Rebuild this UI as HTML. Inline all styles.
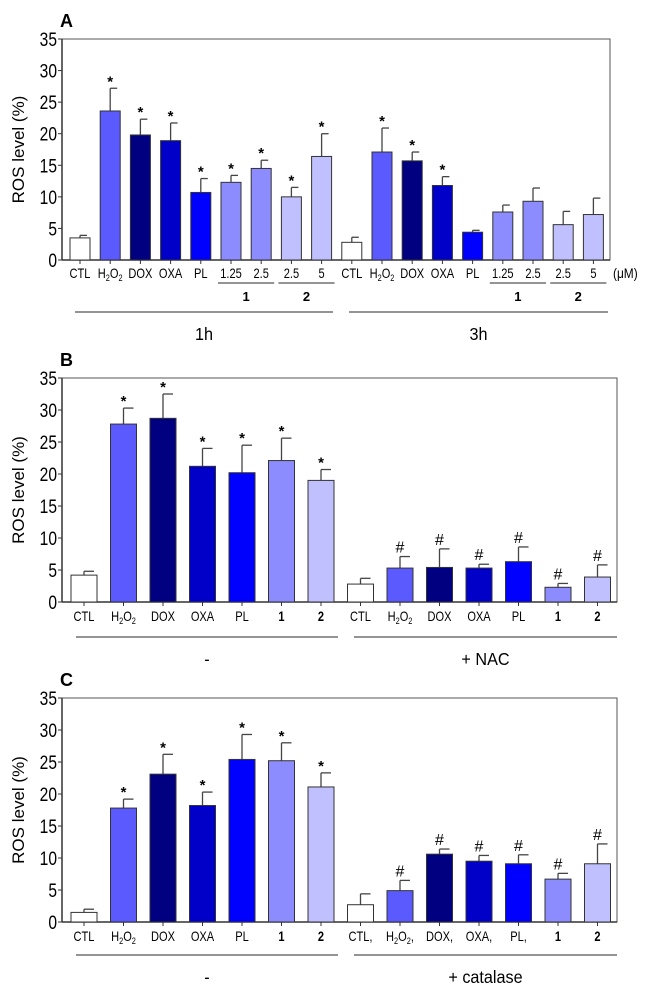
<!DOCTYPE html>
<html><head><meta charset="utf-8"><style>
body{margin:0;background:#fff}
svg{display:block;font-family:"Liberation Sans",sans-serif}
</style></head><body>
<svg id="fig" width="650" height="994" viewBox="0 0 650 994"></svg>
<script>
// Panel A data
const aLabels = ["CTL","H2O2","DOX","OXA","PL","1.25","2.5","2.5","5","CTL","H2O2","DOX","OXA","PL","1.25","2.5","2.5","5"];
const aValues = [3.5,23.6,19.8,18.9,10.7,12.3,14.5,10.0,16.4,2.8,17.1,15.7,11.8,4.4,7.6,9.3,5.6,7.2];
const aErrors = [0.4,3.6,2.5,2.8,2.2,1.1,1.3,1.5,3.6,0.8,3.8,1.4,1.4,0.3,1.1,2.1,2.1,2.6];
const aMarks = ["","*","*","*","*","*","*","*","*","","*","*","*","","","","",""];
const aColors = ["#ffffff","#5a5aff","#000080","#0000c8","#0000ff","#8c8cff","#8c8cff","#c0c0ff","#c0c0ff","#ffffff","#5a5aff","#000080","#0000c8","#0000ff","#8c8cff","#8c8cff","#c0c0ff","#c0c0ff"];
// Panel B data
const bLabels = ["CTL","H2O2","DOX","OXA","PL","1","2","CTL","H2O2","DOX","OXA","PL","1","2"];
const bValues = [4.2,27.8,28.7,21.2,20.2,22.1,19.0,2.8,5.3,5.4,5.3,6.3,2.3,3.9];
const bErrors = [0.6,2.5,3.8,2.8,4.3,3.5,1.7,0.9,1.8,2.9,0.6,2.3,0.6,1.9];
const bMarks = ["","*","*","*","*","*","*","","#","#","#","#","#","#"];
// Panel C data
const cLabels = ["CTL","H2O2","DOX","OXA","PL","1","2","CTL,","H2O2,","DOX,","OXA,","PL,","1","2"];
const cValues = [1.5,17.8,23.1,18.2,25.4,25.2,21.1,2.7,4.9,10.6,9.5,9.1,6.7,9.1];
const cErrors = [0.5,1.4,3.1,2.1,3.9,2.8,2.2,1.7,1.6,0.8,0.9,1.4,0.9,3.1];
const cMarks = ["","*","*","*","*","*","*","","#","#","#","#","#","#"];
const bcColors = ["#ffffff","#5a5aff","#000080","#0000c8","#0000ff","#8c8cff","#c0c0ff","#ffffff","#5a5aff","#000080","#0000c8","#0000ff","#8c8cff","#c0c0ff"];
const yTicks = [0,5,10,15,20,25,30,35];

const NS="http://www.w3.org/2000/svg";
const svg=document.getElementById('fig');
function mk(tag,attrs,parent){const e=document.createElementNS(NS,tag);for(const k in attrs)e.setAttribute(k,attrs[k]);(parent||svg).appendChild(e);return e;}

function panel(p){
  const g=mk('g',{});
  
  
  const y=v=>p.y0-(v/35)*(p.y0-p.y35);
  const x=i=>p.x0c+i*p.step;
  const t=mk('text',{x:p.left-2,y:p.y35-12,'font-size':18,'font-weight':'bold'},g);t.textContent=p.id;
  
  
  const fr=mk('path',{d:`M${p.left},${p.y35}H${p.right}V${p.y0}H${p.left}Z`,fill:'none',stroke:'#555','stroke-width':1},g);
  
  
  mk('line',{x1:p.left,x2:p.left,y1:p.y35,y2:p.y0,stroke:'#333','stroke-width':1.5},g);
  mk('line',{x1:p.left,x2:p.right,y1:p.y0,y2:p.y0,stroke:'#333','stroke-width':1.5},g);
  yTicks.forEach(v=>{
    mk('line',{x1:p.left-4,x2:p.left,y1:y(v),y2:y(v),stroke:'#333'},g);
    const tt=mk('text',{x:0,y:0,'font-size':19,'text-anchor':'end',transform:`translate(${p.left-5},${y(v)+7}) scale(0.82,1)`},g);
    tt.textContent=v;
    
    
  });
  const yt=mk('text',{x:0,y:0,'font-size':17,'text-anchor':'middle',transform:`translate(24,${(p.y0+p.y35)/2}) rotate(-90)`},g);
  yt.textContent='ROS level (%)';
  
  
  p.values.forEach((v,i)=>{
    const cx=x(i),top=y(v),et=y(v+p.errors[i]);
    mk('line',{x1:cx,x2:cx,y1:top,y2:et,stroke:'#444','stroke-width':1.3},g);
    mk('line',{x1:cx,x2:cx+p.bw/2-3,y1:et,y2:et,stroke:'#444','stroke-width':1.3},g);
    const r=mk('rect',{x:cx-p.bw/2,y:top,width:p.bw,height:p.y0-top,fill:p.colors[i],stroke:'#333','stroke-width':1},g);
    
    
    mk('line',{x1:cx,x2:cx,y1:p.y0,y2:p.y0+4,stroke:'#333'},g);
    if(p.marks[i]){
      const star=p.marks[i]=='*';
      const m=mk('text',{x:cx,y:et-(star?2:4),'font-size':star?15:16,'font-weight':star?'bold':'normal','text-anchor':'middle'},g);
      m.textContent=p.marks[i];
      
      
    }
    const lab=p.labels[i];
    const lt=mk('text',{x:0,y:0,'font-size':13.5,'text-anchor':'middle',transform:`translate(${cx},${p.labY}) scale(0.82,1)`},g);
    if(lab.startsWith('H2O2')){
      lt.innerHTML='H<tspan font-size="9" dy="3">2</tspan><tspan dy="-3">O</tspan><tspan font-size="9" dy="3">2</tspan>'+(lab.endsWith(',')?'<tspan dy="-3">,</tspan>':'');
    } else {lt.textContent=lab; if(lab==='1'||lab==='2')lt.setAttribute('font-weight','bold');}
    
    
  });
  p.groups.forEach(gr=>{
    mk('line',{x1:gr[0],x2:gr[1],y1:p.lineY,y2:p.lineY,stroke:'#555','stroke-width':1.2},g);
    const gt=mk('text',{x:0,y:0,'font-size':18,'text-anchor':'middle',transform:`translate(${(gr[0]+gr[1])/2},${p.lineY+28}) scale(0.9,1)`},g);
    gt.textContent=gr[2];
    
    
  });
  return {g,x};
}

const A=panel({id:'A',left:62,right:610,y35:39,y0:260,x0c:80,step:30.2,bw:20,labY:278,lineY:312,
  labels:aLabels,values:aValues,errors:aErrors,marks:aMarks,colors:aColors,
  groups:[[75,333,'1h'],[349,608,'3h']]});
[[5,6,'1'],[7,8,'2'],[14,15,'1'],[16,17,'2']].forEach(s=>{
  const x1=A.x(s[0])-13,x2=A.x(s[1])+13;
  mk('line',{x1:x1,x2:x2,y1:283,y2:283,stroke:'#555','stroke-width':1.2},A.g);
  const t=mk('text',{x:(x1+x2)/2,y:301,'font-size':13,'font-weight':'bold','text-anchor':'middle'},A.g);
  t.textContent=s[2];
  
  
});
const um=mk('text',{x:0,y:0,'font-size':14,transform:'translate(613,278) scale(0.85,1)'},A.g);
um.textContent='(μM)';



panel({id:'B',left:62,right:617,y35:378,y0:602,x0c:84,step:39.5,bw:26,labY:621,lineY:637,
  labels:bLabels,values:bValues,errors:bErrors,marks:bMarks,colors:bcColors,
  groups:[[76,338,'-'],[354,617,'+ NAC']]});
panel({id:'C',left:62,right:617,y35:698,y0:922,x0c:84,step:39.5,bw:26,labY:941,lineY:955,
  labels:cLabels,values:cValues,errors:cErrors,marks:cMarks,colors:bcColors,
  groups:[[76,338,'-'],[354,617,'+ catalase']]});
</script>
</body></html>
